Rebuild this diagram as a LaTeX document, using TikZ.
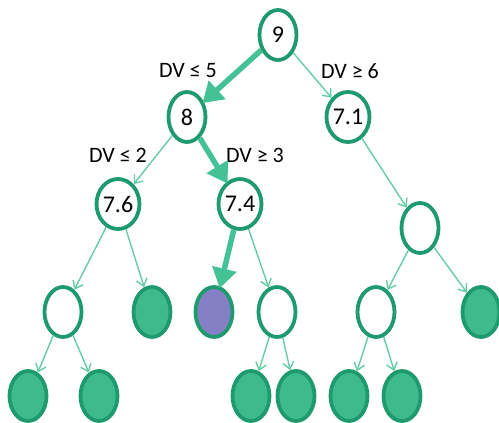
\documentclass[tikz,border=0pt]{standalone}
\usepackage{fontspec}
\setmainfont{Carlito}
\usetikzlibrary{shapes.geometric,arrows.meta}

\definecolor{ringgreen}{HTML}{1E9A6E}
\definecolor{leafgreen}{HTML}{3DBB8E}
\definecolor{edgegreen}{HTML}{66CCA5}
\definecolor{pathgreen}{HTML}{45C295}
\definecolor{hitpurple}{HTML}{8580C4}

\tikzset{
  knot/.style = {draw = ringgreen, ellipse, line width = 3.8pt, fill = white,
                 minimum width = 37pt, minimum height = 50pt, inner sep = 0pt,
                 font = \fontsize{24}{26}\selectfont},
  leaf/.style = {knot, fill = leafgreen},
  hit/.style  = {knot, fill = hitpurple},
  split/.style = {font = \fontsize{22}{24}\selectfont, inner sep = 0pt},
  branch/.style = {draw = edgegreen, line width = 1.4pt,
                   -{Straight Barb[length = 7pt, width = 11pt]}},
  chosen/.style = {draw = pathgreen, line width = 5.5pt,
                   -{Triangle[length = 20pt, width = 24pt]}, shorten >= -2pt}
}

\begin{document}
\begin{tikzpicture}[x = 1pt, y = -1pt]
  \useasboundingbox (0, 0) rectangle (499, 423);

  \node[knot] at (278,  35)  (root) {9};
  \node[knot] at (187, 117)  (l)    {8};
  \node[knot] at (348, 117)  (r)    {7.1};
  \node[knot] at (118, 204)  (ll)   {7.6};
  \node[knot] at (240, 204)  (lr)   {7.4};
  \node[knot] at (420, 228)  (rr)   {};

  \node[knot] at ( 63, 312)  (lla)  {};
  \node[leaf] at (152, 312)  (llb)  {};
  \node[hit]  at (214, 312)  (lra)  {};
  \node[knot] at (277, 312)  (lrb)  {};
  \node[knot] at (376, 312)  (rra)  {};
  \node[leaf] at (481, 312)  (rrb)  {};

  \node[leaf] at ( 28, 396)  (llaa) {};
  \node[leaf] at ( 99, 396)  (llab) {};
  \node[leaf] at (251, 396)  (lrba) {};
  \node[leaf] at (296, 396)  (lrbb) {};
  \node[leaf] at (349, 396)  (rraa) {};
  \node[leaf] at (402, 396)  (rrab) {};

  % split conditions
  \node[split] at (188,  71) (c5) {DV ≤ 5};
  \node[split] at (350,  71) (c6) {DV ≥ 6};
  \node[split] at (118, 155) (c2) {DV ≤ 2};
  \node[split] at (255, 155) (c3) {DV ≥ 3};

  \draw[branch] (root) -- (r);
  \draw[branch] (l)    -- (ll);
  \draw[branch] (r)    -- (rr);
  \draw[branch] (ll)   -- (lla);
  \draw[branch] (ll)   -- (llb);
  \draw[branch] (lr)   -- (lrb);
  \draw[branch] (rr)   -- (rra);
  \draw[branch] (rr)   -- (rrb);
  \draw[branch] (lla)  -- (llaa);
  \draw[branch] (lla)  -- (llab);
  \draw[branch] (lrb)  -- (lrba);
  \draw[branch] (lrb)  -- (lrbb);
  \draw[branch] (rra)  -- (rraa);
  \draw[branch] (rra)  -- (rrab);

  % the path actually taken
  \draw[chosen] (root) -- (l);
  \draw[chosen] (l)    -- (lr);
  \draw[chosen] (lr)   -- (lra);
\end{tikzpicture}
\end{document}
